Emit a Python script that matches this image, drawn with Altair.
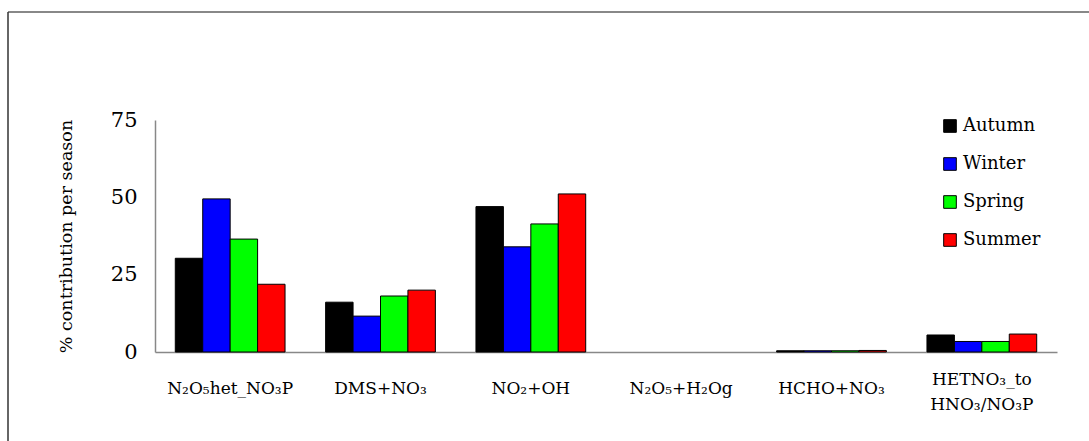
import altair as alt
import pandas as pd

categories = ["N₂O₅het_NO₃P", "DMS+NO₃", "NO₂+OH", "N₂O₅+H₂Og", "HCHO+NO₃", "HETNO₃_to|HNO₃/NO₃P"]
seasons = ["Autumn", "Winter", "Spring", "Summer"]
autumn = [30.3, 16.1, 47.0, 0.0, 0.4, 5.5]
winter = [49.5, 11.6, 34.0, 0.0, 0.4, 3.4]
spring = [36.5, 18.1, 41.4, 0.0, 0.4, 3.4]
summer = [21.9, 20.0, 51.1, 0.0, 0.5, 5.8]
colors = ["#000000", "#0000FF", "#00FF00", "#FF0000"]
y_ticks = [0, 25, 50, 75]

series = [autumn, winter, spring, summer]
rows = []
for ci, cat in enumerate(categories):
    for si, s in enumerate(seasons):
        rows.append({"category": cat, "season": s, "value": series[si][ci]})
df = pd.DataFrame(rows)

FONT = "DejaVu Serif"

bars = alt.Chart(df).transform_filter("datum.value > 0").mark_bar(stroke="black", strokeWidth=1).encode(
    x=alt.X(
        "category:N",
        sort=categories,
        scale=alt.Scale(domain=categories, paddingInner=0.27, paddingOuter=0.135),
        axis=alt.Axis(
            title=None, labelAngle=0, labelExpr="split(datum.label, '|')",
            labelFontSize=17, labelFont=FONT, labelColor="black",
            labelPadding={"condition": {"test": "indexof(datum.value, '|') >= 0", "value": 27}, "value": 36},
            labelBaseline="middle", labelLineHeight=25,
            ticks=False, domainColor="#888888", domainWidth=1.5,
            labelOverlap=False, labelLimit=300,
        ),
    ),
    xOffset=alt.XOffset("season:N", sort=seasons, scale=alt.Scale(domain=seasons, paddingInner=0, paddingOuter=0)),
    y=alt.Y(
        "value:Q",
        scale=alt.Scale(domain=[0, 75], nice=False),
        axis=alt.Axis(
            values=y_ticks, grid=False, ticks=False,
            labelFontSize=21, labelFont=FONT, labelColor="black", labelPadding=18,
            title="% contribution per season", titleFontSize=17.5, titleFont=FONT,
            titleFontWeight="normal", titleColor="black",
            titleX=-89, titleY=116, titleAlign="center", titleBaseline="middle",
            titleAngle=-90,
            domainColor="#888888", domainWidth=1.5,
        ),
    ),
    color=alt.Color(
        "season:N",
        sort=seasons,
        scale=alt.Scale(domain=seasons, range=colors),
        legend=alt.Legend(
            title=None, orient="none", legendX=786, legendY=-3,
            labelFont=FONT, labelFontSize=18, labelColor="black",
            symbolType="square", symbolSize=160, symbolStrokeColor="black",
            symbolStrokeWidth=1, rowPadding=20, labelOffset=4, padding=0,
        ),
    ),
)

frame_df = pd.DataFrame({"a": [0]})
top_line = alt.Chart(frame_df).mark_rule(color="#888888", strokeWidth=2).encode(
    x=alt.value(-147), x2=alt.value(960), y=alt.value(-108)
)
left_line = alt.Chart(frame_df).mark_rule(color="#333333", strokeWidth=1.5).encode(
    x=alt.value(-147), y=alt.value(-108), y2=alt.value(340)
)

chart = alt.layer(bars, top_line, left_line).properties(
    width=902, height=232,
    background="white",
    autosize=alt.AutoSizeParams(type="none"),
    padding={"left": 155, "top": 120, "right": 32, "bottom": 89},
).configure_view(stroke=None)

chart.save("out.html", embed_options={"renderer": "svg", "actions": False})
